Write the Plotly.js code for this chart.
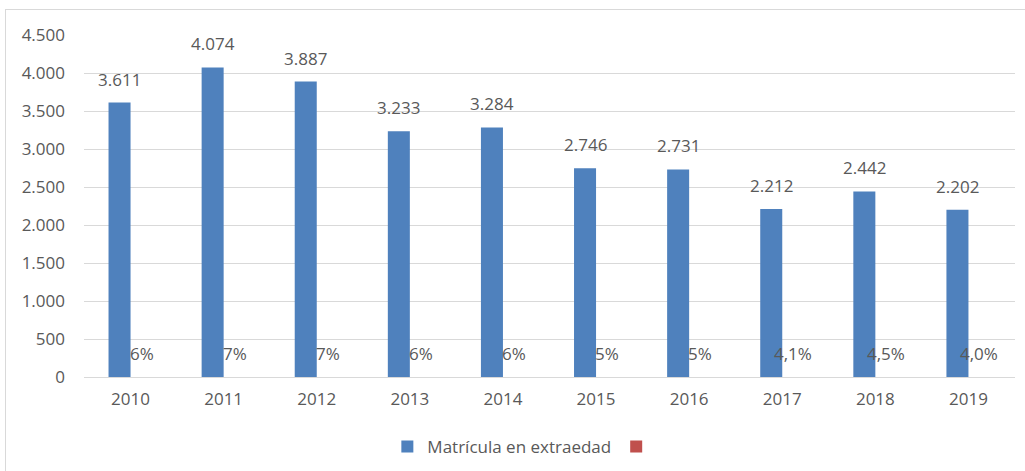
<!DOCTYPE html>
<html>
<head>
<meta charset="utf-8">
<script src="https://cdn.plot.ly/plotly-3.0.1.min.js"></script>
<style>
  html, body { margin: 0; padding: 0; background: #fff; }
  #wrap { position: relative; width: 1025px; height: 471px; overflow: hidden; }
  #chart { position: absolute; left: 0; top: 0; width: 1025px; height: 471px; }
  #frame { position: absolute; left: 5px; top: 9px; width: 1030px; height: 480px;
           border: 1px solid #d9d9d9; box-sizing: border-box; pointer-events: none; }
</style>
</head>
<body>
<div id="wrap">
  <div id="chart"></div>
  <div id="frame"></div>
</div>
<script>
const years = ['2010','2011','2012','2013','2014','2015','2016','2017','2018','2019'];
const matricula = [3611, 4074, 3887, 3233, 3284, 2746, 2731, 2212, 2442, 2202];
const porcentaje = [0.06, 0.07, 0.07, 0.06, 0.06, 0.05, 0.05, 0.041, 0.045, 0.040];
const porcentajeLabels = ['6%','7%','7%','6%','6%','5%','5%','4,1%','4,5%','4,0%'];
const yTicks = [0, 500, 1000, 1500, 2000, 2500, 3000, 3500, 4000, 4500];

function fmtMiles(v) {
  return String(Math.round(v)).replace(/\B(?=(\d{3})+(?!\d))/g, '.');
}

const textColor = '#595959';
const font = { family: 'Open Sans, sans-serif', size: 17, color: textColor };

const traces = [
  {
    type: 'bar', x: years, y: matricula, name: 'Matrícula en extraedad',
    marker: { color: '#4F81BD' }, hoverinfo: 'skip'
  },
  {
    type: 'bar', x: years, y: porcentaje, name: ' ',
    marker: { color: '#C0504D' }, hoverinfo: 'skip'
  }
];

const annotations = [];
years.forEach((yr, i) => {
  annotations.push({
    x: i, y: matricula[i], xref: 'x', yref: 'y',
    text: fmtMiles(matricula[i]), showarrow: false,
    xanchor: 'center', yanchor: 'bottom', xshift: -11, yshift: 10, font: font
  });
  annotations.push({
    x: i, y: 0, xref: 'x', yref: 'y',
    text: porcentajeLabels[i], showarrow: false,
    xanchor: 'center', yanchor: 'middle', xshift: 11, yshift: 24, font: font
  });
});

const layout = {
  width: 1025, height: 471,
  margin: { l: 84, r: 10, t: 35, b: 94, autoexpand: false },
  paper_bgcolor: 'rgba(0,0,0,0)', plot_bgcolor: 'rgba(0,0,0,0)',
  font: font,
  separators: ',.',
  barmode: 'group', bargap: 0.527, bargroupgap: 0,
  showlegend: true,
  legend: { orientation: 'h', xref: 'container', yref: 'container',
            x: 0.514, xanchor: 'center', y: 0.051, yanchor: 'middle',
            font: font, itemwidth: 30, traceorder: 'normal' },
  xaxis: { type: 'category', range: [-0.5, years.length - 0.5], autorange: false,
           showgrid: false, zeroline: false, showline: false, automargin: false,
           ticks: '', ticklabelstandoff: 10, tickfont: font, fixedrange: true },
  yaxis: { range: [0, 4500], autorange: false, tickvals: yTicks, ticktext: yTicks.map(fmtMiles),
           showgrid: true, gridcolor: '#d9d9d9', gridwidth: 1, automargin: false,
           zeroline: true, zerolinecolor: '#d9d9d9', zerolinewidth: 1,
           showline: false, ticks: '', ticklabelstandoff: 18, tickfont: font, fixedrange: true },
  annotations: annotations
};

Plotly.newPlot('chart', traces, layout, { staticPlot: true, displayModeBar: false });
</script>
</body>
</html>
